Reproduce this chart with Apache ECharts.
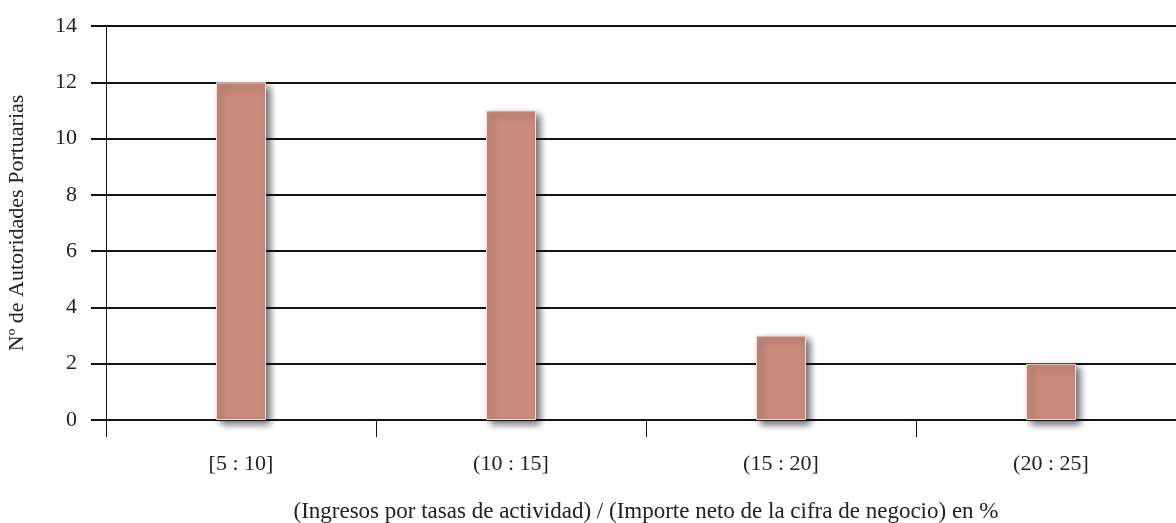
<!DOCTYPE html>
<html><head><meta charset="utf-8">
<script src="https://cdn.jsdelivr.net/npm/echarts@6/dist/echarts.min.js"></script>
<style>html,body{margin:0;padding:0;background:#fff}#c{width:1176px;height:523px}</style>
</head><body><div id="c"></div>
<script>
const categories = ['[5 : 10]', '(10 : 15]', '(15 : 20]', '(20 : 25]'];
const values = [12, 11, 3, 2];
const yTicks = [0, 2, 4, 6, 8, 10, 12, 14];
const xName = '(Ingresos por tasas de actividad) / (Importe neto de la cifra de negocio) en %';
const yName = 'Nº de Autoridades Portuarias';

const font = '"Liberation Serif", "DejaVu Serif", serif';
const chart = echarts.init(document.getElementById('c'));
chart.setOption({
  animation: false,
  grid: { left: 106, right: -10, top: 26, bottom: 103, containLabel: false, outerBoundsMode: 'none' },
  xAxis: {
    type: 'category', data: categories,
    name: xName, nameLocation: 'middle', nameGap: 80,
    nameTextStyle: { fontFamily: font, fontSize: 23, color: '#222' },
    axisLine: { show: true, lineStyle: { color: '#111', width: 1 } },
    axisTick: { show: true, alignWithLabel: false, length: 17, lineStyle: { color: '#111', width: 1 } },
    axisLabel: { fontFamily: font, fontSize: 22, color: '#222', margin: 33 },
    splitLine: { show: false }
  },
  yAxis: {
    type: 'value', min: yTicks[0], max: yTicks[yTicks.length - 1], interval: 2,
    name: yName, nameLocation: 'middle', nameGap: 78, nameRotate: 90,
    nameTextStyle: { fontFamily: font, fontSize: 22, color: '#222' },
    axisLine: { show: true, lineStyle: { color: '#111', width: 1 } },
    axisTick: { show: true, length: 15, lineStyle: { color: '#111', width: 2 } },
    axisLabel: { fontFamily: font, fontSize: 22, color: '#222', margin: 29 },
    splitLine: { show: true, lineStyle: { color: '#111', width: 2 } }
  },
  series: [{
    type: 'bar', data: values, barWidth: 50,
    itemStyle: {
      color: '#c98b7c', borderColor: '#f3dcd4', borderWidth: 1,
      shadowColor: 'rgba(20,20,30,0.65)', shadowBlur: 7, shadowOffsetX: 4, shadowOffsetY: 4
    }
  }]
});
</script></body></html>
